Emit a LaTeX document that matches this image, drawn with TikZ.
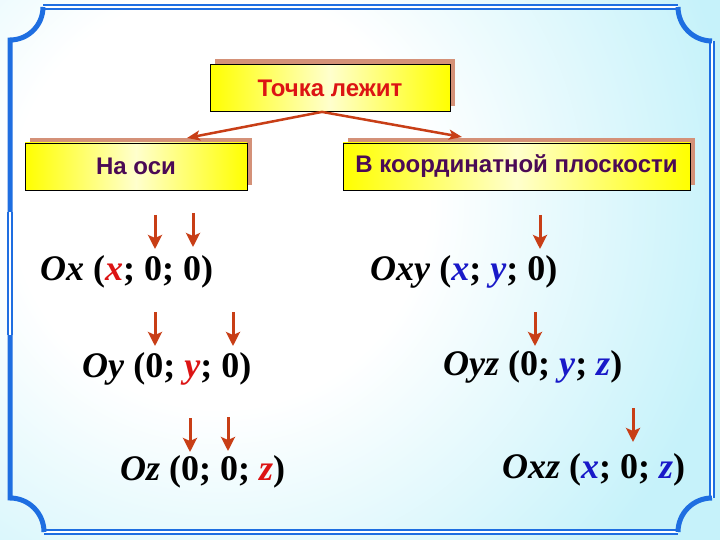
\documentclass[tikz,border=0pt]{standalone}
\usepackage{fontspec}
\setmainfont{Liberation Serif}
\newfontfamily\boxfont{Liberation Sans}
\usetikzlibrary{arrows.meta,shadows}
\definecolor{framebl}{RGB}{30,110,225}
\definecolor{bgcyan}{RGB}{198,242,250}
\definecolor{boxyel}{RGB}{255,255,0}
\definecolor{boxpale}{RGB}{255,255,205}
\definecolor{boxtan}{RGB}{212,145,120}
\definecolor{arrred}{RGB}{200,62,22}
\definecolor{txtred}{RGB}{220,20,20}
\definecolor{txtblue}{RGB}{25,25,200}
\definecolor{txtpurple}{RGB}{75,10,85}
\pgfdeclareradialshading{bgglow}{\pgfpoint{0bp}{0bp}}{color(0bp)=(white); color(10bp)=(white); color(25bp)=(bgcyan); color(50bp)=(bgcyan)}
\newcommand\rd[1]{{\color{txtred}\textit{#1}}}
\newcommand\bl[1]{{\color{txtblue}\textit{#1}}}

\begin{document}
\begin{tikzpicture}[x=1pt,y=-1pt,
    box/.style={draw=black, line width=0.8pt, left color=boxyel, right color=boxyel, middle color=boxpale,
      minimum height=47pt, font=\boxfont\bfseries\fontsize{24}{27}\selectfont,
      general shadow={fill=boxtan, shadow xshift=5pt, shadow yshift=5pt}},
    formula/.style={anchor=base west, inner sep=0pt, font=\bfseries\fontsize{36}{40}\selectfont},
    mainarr/.style={arrred, line width=2.5pt, -{Stealth[length=13pt,width=10pt,inset=3pt]}},
    ptr/.style={arrred, line width=3pt, -{Stealth[length=14pt,width=14pt,inset=3pt]}},
    dbl/.style={framebl, line width=1.4pt, double=white, double distance=2.4pt},
    thickframe/.style={framebl, line width=5pt}]
  % background
  \begin{scope}
    \clip (0,0) rectangle (720,540);
    \fill[bgcyan] (0,0) rectangle (720,540);
    \shade[shading=bgglow] (220,200) circle (520);
  \end{scope}
  \useasboundingbox (0,0) rectangle (720,540);

  % frame
  \draw[dbl] (43,7) -- (678,7);
  \draw[dbl] (712,41) -- (712,498);
  \draw[dbl] (44,532) -- (678,532);
  \draw[dbl] (10,212) -- (10,335);
  \draw[thickframe] (43,7) arc[start angle=0, end angle=90, radius=33] -- (10,212);
  \draw[thickframe] (10,335) -- (10,498) arc[start angle=-90, end angle=0, radius=34];
  \draw[thickframe] (678,532) arc[start angle=180, end angle=270, radius=34];
  \draw[thickframe] (678,7) arc[start angle=180, end angle=90, radius=34];

  % boxes
  \node[box, minimum width=240pt, text=txtred] (tochka) at (330,88) {Точка лежит};
  \node[box, minimum width=222pt, text=txtpurple] (osi) at (136,166.5) {На оси};
  \node[box, minimum width=347pt, text=txtpurple] (plos) at (516.5,166.5) {В координатной плоскости};

  \coordinate (osiend) at (187,138);
  \coordinate (plosend) at (462,137);
  \draw[mainarr] ([xshift=-8pt]tochka.south) -- (osiend);
  \draw[mainarr] ([xshift=-8pt]tochka.south) -- (plosend);

  % coordinates of points
  \node[formula] (ox) at (40,280) {\textit{Ox} (\rd{x}; 0; 0)};
  \node[formula] (oy) at (82,377) {\textit{Oy} (0; \rd{y}; 0)};
  \node[formula] (oz) at (120,480) {\textit{Oz} (0; 0; \rd{z})};
  \node[formula] (oxy) at (370,280) {\textit{Oxy} (\bl{x}; \bl{y}; 0)};
  \node[formula] (oyz) at (443,375) {\textit{Oyz} (0; \bl{y}; \bl{z})};
  \node[formula] (oxz) at (502,478) {\textit{Oxz} (\bl{x}; 0; \bl{z})};

  % arrows to the zeros
  \foreach \px/\py [count=\i] in {155/215, 193/213, 540/215, 155/312, 233/312, 535/312, 190/418, 228/417, 633/408}
  {
    \coordinate (t\i) at (\px,\py);
    \coordinate (h\i) at (\px,\py+34);
    \draw[ptr] (t\i) -- (h\i);
  }
\end{tikzpicture}
\end{document}
